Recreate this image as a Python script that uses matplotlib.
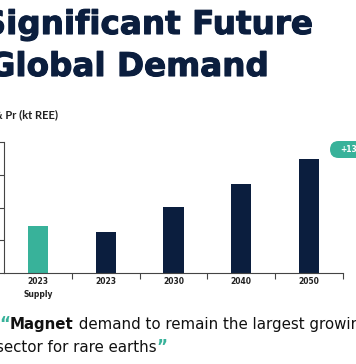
import matplotlib
matplotlib.use("Agg")
import matplotlib.pyplot as plt
import matplotlib.patheffects as pe
from matplotlib.patches import FancyBboxPatch

# data (kt REE, Nd & Pr)
categories = ["2023\nSupply", "2023", "2030", "2040", "2050"]
values = [72, 63, 101, 136, 174]
bar_colors = ["#38b29a", "#0b1e3e", "#0b1e3e", "#0b1e3e", "#0b1e3e"]
badge_text = "+139%"

NAVY = "#0b1e3e"
GREEN = "#38b29a"
FONT = "DejaVu Sans"
W, H = 356, 364

fig = plt.figure(figsize=(W / 100, H / 100), dpi=100)
fig.patch.set_facecolor("white")


def px(x, y):
    # pixel coords (from top-left) -> figure fraction
    return x / W, 1 - y / H


# title, cropped on the left like the source slide
heavy = [pe.withStroke(linewidth=0.8, foreground=NAVY)]
fig.text(*px(313, 34), "Significant Future", ha="right", va="baseline",
         fontsize=23.5, fontweight="bold", family=FONT, color=NAVY,
         path_effects=heavy)
fig.text(*px(269, 76), "Global Demand", ha="right", va="baseline",
         fontsize=23.5, fontweight="bold", family=FONT, color=NAVY,
         path_effects=heavy)

fig.text(*px(58, 118), "Nd & Pr (kt REE)", ha="right", va="baseline",
         fontsize=8, fontweight="bold", family="Lato", color="#222222")

# chart
ax = fig.add_axes([4 / W, 1 - 273 / H, (343 - 4) / W, (273 - 142) / H])
x = range(len(categories))
ax.bar(x, values, width=0.3, color=bar_colors)
ax.set_xlim(-0.5, len(categories) - 0.5)
ax.set_ylim(0, 200)

ax.set_yticks([0, 50, 100, 150, 200])
ax.set_yticklabels([])
ax.set_xticks([i + 0.5 for i in range(len(categories))])
ax.set_xticklabels([])
ax.set_xticks(list(x), minor=True)
ax.set_xticklabels(categories, minor=True, fontsize=5.5, fontweight="bold",
                   family=FONT, color="#222222", linespacing=1.5)
ax.tick_params(axis="x", which="minor", length=0, pad=3)
ax.tick_params(axis="both", which="major", length=4, width=0.8, color="#444444")

for s in ["top", "right"]:
    ax.spines[s].set_visible(False)
for s in ["left", "bottom"]:
    ax.spines[s].set_color("#444444")
    ax.spines[s].set_linewidth(0.8)

# growth badge at top right, runs off the edge
badge = FancyBboxPatch(px(330, 158), 40 / W, 17 / H,
                       boxstyle="round,pad=0,rounding_size=0.024",
                       transform=fig.transFigure, facecolor=GREEN,
                       edgecolor="none", clip_on=False)
fig.patches.append(badge)
fig.text(*px(340, 149.5), badge_text, ha="left", va="center", fontsize=5.5,
         fontweight="bold", family=FONT, color="white")

# quote under the chart, built from pieces
fig.canvas.draw()
renderer = fig.canvas.get_renderer()


def chain(parts, x0, y0):
    xx = x0
    for txt, kw in parts:
        t = fig.text(xx / W, 1 - y0 / H, txt, ha="left", va="baseline",
                     family=FONT, **kw)
        bb = t.get_window_extent(renderer)
        xx += bb.width


chain([("\u201c", dict(fontsize=12, fontweight="bold", color=GREEN)),
       ("Magnet", dict(fontsize=10.8, fontweight="bold", color="#111111")),
       (" demand to remain the largest growing",
        dict(fontsize=10.8, color="#111111"))], -1, 329)
chain([("sector for rare earths", dict(fontsize=10.8, color="#111111")),
       ("\u201d", dict(fontsize=12, fontweight="bold", color=GREEN))], -4, 352)

fig.savefig("out.png", dpi=100)
